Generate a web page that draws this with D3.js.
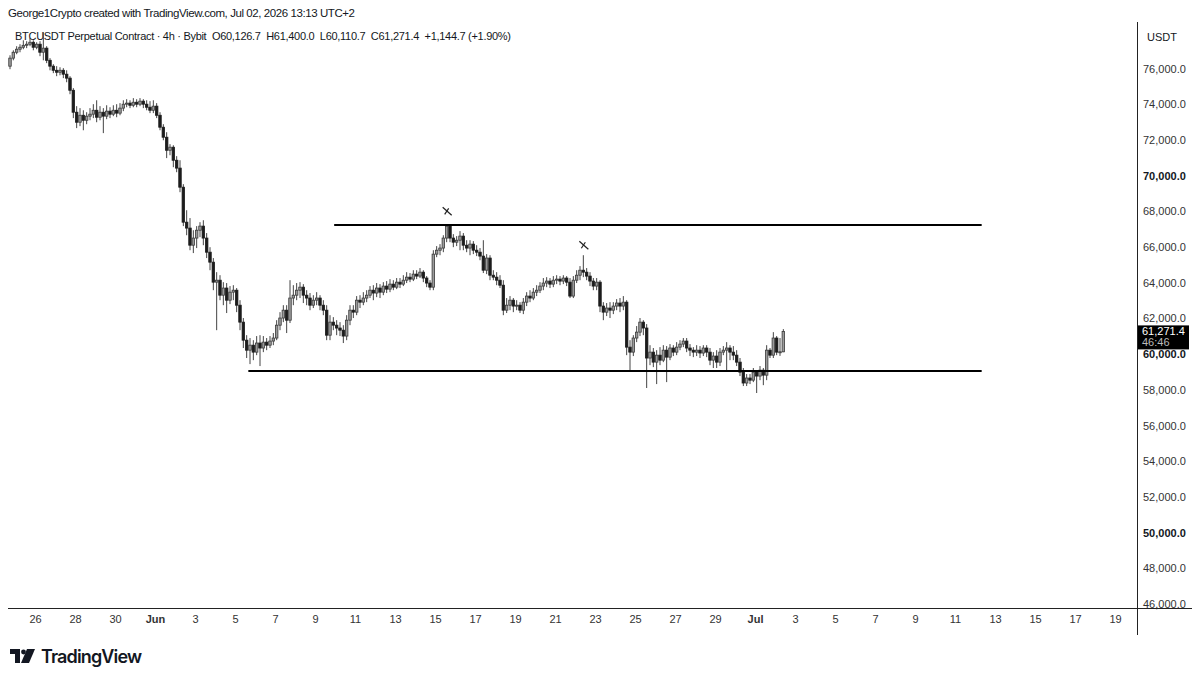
<!DOCTYPE html>
<html>
<head>
<meta charset="utf-8">
<script src="https://cdn.jsdelivr.net/npm/d3@7"></script>
<style>
  html, body { margin: 0; padding: 0; background: #fff; }
  svg { display: block; font-family: "Liberation Sans", Arial, sans-serif; }
</style>
</head>
<body>
<div id="chart"></div>
<script>
// BTCUSDT 4h candles, first bar opens May 24 2026 18:00
const startTime = new Date(2026, 4, 24, 18);

const opens = [76130, 76580, 76910, 77080, 77190, 77300, 77360, 77470, 77190, 77360, 76910, 77140, 76460, 76130, 75900, 75790, 75900, 75680, 75460, 74780,
  73550, 72990, 73380, 73100, 73330, 73440, 73660, 73270, 73550, 73330, 73610, 73440, 73660, 73500, 73780, 74000, 74060, 73940, 74110, 74000,
  74170, 74000, 73830, 73660, 73890, 73380, 72710, 72150, 71420, 71590, 70860, 70420, 69350, 67390, 67060, 66100, 66500, 66940, 67170, 66500,
  65710, 65150, 64030, 64140, 63300, 63700, 63020, 63470, 63580, 62740, 61790, 60780, 60220, 60500, 60110, 60620, 60340, 60670, 60500, 60730,
  60900, 61620, 62020, 62460, 61900, 63140, 63300, 63580, 63750, 63300, 63140, 62740, 63020, 63140, 62740, 62460, 61060, 61790, 61620, 61460,
  61340, 61010, 61900, 62460, 62350, 63020, 62910, 63140, 63300, 63580, 63420, 63700, 63470, 63810, 63640, 63920, 63750, 64030, 63920, 64140,
  64310, 64200, 64480, 64370, 64590, 64260, 63980, 63750, 65600, 65820, 65940, 66500, 67170, 66500, 66270, 66380, 66610, 66100, 65940, 66160,
  65820, 65710, 65490, 64700, 65380, 64420, 64310, 64140, 63860, 62460, 62740, 63020, 62690, 62740, 62460, 62910, 63250, 63140, 63470, 63580,
  63810, 63980, 64090, 63920, 64140, 64200, 64090, 64260, 64030, 63250, 64140, 64420, 64700, 64590, 64370, 64090, 63810, 64030, 62690, 62350,
  62580, 62460, 62690, 62860, 62690, 62910, 60390, 60110, 60900, 61230, 61790, 61460, 59780, 60110, 59550, 59940, 59660, 60220, 59830, 60340,
  60110, 60390, 60560, 60730, 60340, 60220, 60110, 60220, 60060, 60340, 60110, 59660, 59890, 59550, 60110, 60220, 60340, 60110, 59940, 59550,
  58990, 58380, 58660, 58540, 58990, 58770, 59100, 58820, 60220, 59940, 60900, 60110, 60126.7];

const highs = [76740, 77020, 77250, 77360, 77580, 77530, 77700, 77580, 77470, 77530, 78030, 77250, 76580, 76240, 76130, 76070, 76020, 75900, 75570, 74900,
  73890, 73780, 73660, 73550, 73780, 74000, 74220, 73890, 73780, 73940, 73830, 73940, 74000, 74060, 74220, 74280, 74220, 74340, 74280, 74340,
  74280, 74220, 74170, 74220, 74060, 73550, 72880, 72430, 71760, 71700, 71090, 70860, 69520, 68060, 67620, 66940, 67170, 67390, 67500, 66780,
  65990, 65380, 64590, 64420, 64030, 63980, 63810, 63860, 63700, 63020, 62020, 61060, 60900, 60780, 61010, 61060, 61010, 60900, 61010, 61180,
  61900, 62350, 62740, 62740, 64140, 63860, 63980, 64030, 63920, 63580, 63420, 63300, 63470, 63300, 63020, 62740, 62180, 62070, 61900, 61790,
  61620, 62180, 62740, 62740, 63250, 63300, 63470, 63580, 63810, 63860, 63980, 63920, 64030, 64090, 64200, 64140, 64260, 64260, 64420, 64590,
  64540, 64700, 64700, 64820, 64700, 64370, 64140, 65820, 66050, 66160, 66660, 67280, 67220, 66720, 66610, 66890, 66780, 66380, 66380, 66330,
  66100, 65940, 66380, 65600, 65540, 64700, 64590, 64420, 64140, 63140, 63250, 63140, 63020, 62910, 63140, 63470, 63580, 63700, 63860, 64030,
  64260, 64310, 64260, 64370, 64420, 64370, 64420, 64370, 64260, 64370, 64700, 64930, 65540, 64820, 64590, 64260, 64260, 64140, 62910, 62860,
  62910, 62910, 63080, 63140, 63250, 63020, 60780, 61060, 61570, 62020, 61900, 61680, 60500, 60340, 60220, 60390, 60500, 60450, 60560, 60500,
  60670, 60780, 60900, 60900, 60560, 60390, 60500, 60450, 60500, 60500, 60340, 60110, 60220, 60340, 60450, 60670, 60500, 60450, 60220, 59780,
  59220, 58880, 58880, 59220, 59100, 59330, 59220, 60500, 60340, 61230, 61010, 60900, 61400];

const lows = [75960, 76460, 76800, 76910, 77080, 77140, 77250, 77020, 77080, 76690, 76460, 76300, 75900, 75740, 75570, 75620, 75460, 75230, 74560, 73220,
  72660, 72770, 72540, 72880, 73100, 73220, 72990, 73100, 72380, 73160, 73220, 73330, 73270, 73380, 73610, 73830, 73780, 73830, 73830, 73890,
  73780, 73660, 73500, 73500, 73220, 72540, 71980, 70980, 71140, 70470, 70190, 69070, 67170, 66660, 65820, 65660, 65940, 66550, 66100, 65380,
  64700, 63580, 61340, 63020, 62740, 62300, 62800, 63020, 62350, 61340, 60340, 59780, 59440, 59660, 59940, 59330, 60110, 60220, 60340, 60500,
  60780, 61340, 61790, 61180, 61740, 62740, 63020, 63140, 62860, 62740, 62460, 62580, 62740, 62460, 62180, 60780, 60780, 61340, 61060, 61010,
  60620, 60780, 61620, 62020, 62180, 62580, 62740, 62910, 63140, 63020, 63190, 63140, 63300, 63420, 63470, 63580, 63640, 63700, 63810, 63980,
  64030, 64090, 64200, 64260, 64030, 63750, 63580, 63580, 65430, 65540, 65710, 66270, 66270, 65990, 66050, 65820, 65820, 65710, 65540, 65600,
  65490, 65260, 64540, 64480, 64140, 64140, 63860, 63700, 62180, 62300, 62460, 62350, 62460, 62300, 62240, 62690, 62910, 63020, 63250, 63420,
  63580, 63750, 63700, 63750, 63920, 63860, 63920, 63810, 63140, 63140, 63980, 64140, 64310, 64140, 63810, 63580, 63580, 62350, 61900, 62130,
  62020, 62240, 62460, 62350, 62460, 59940, 59100, 59890, 60670, 61010, 61060, 58100, 59380, 59270, 58320, 59380, 59550, 58430, 59660, 59890,
  59940, 60220, 60390, 60110, 59890, 59830, 59890, 59780, 59890, 59830, 59380, 59220, 59220, 59330, 59940, 59100, 59660, 59660, 59330, 58770,
  58210, 58210, 58320, 58430, 57820, 58540, 58260, 58540, 59780, 59780, 59940, 59900, 60110.7];

const closes = [76580, 76910, 77080, 77190, 77300, 77360, 77470, 77190, 77360, 76910, 77140, 76460, 76130, 75900, 75790, 75900, 75680, 75460, 74780, 73550,
  72990, 73380, 73100, 73330, 73440, 73660, 73270, 73550, 73330, 73610, 73440, 73660, 73500, 73780, 74000, 74060, 73940, 74110, 74000, 74170,
  74000, 73830, 73660, 73890, 73380, 72710, 72150, 71420, 71590, 70860, 70420, 69350, 67390, 67060, 66100, 66500, 66940, 67170, 66500, 65710,
  65150, 64030, 64140, 63300, 63700, 63020, 63470, 63580, 62740, 61790, 60780, 60220, 60500, 60110, 60620, 60340, 60670, 60500, 60730, 60900,
  61620, 62020, 62460, 61900, 63140, 63300, 63580, 63750, 63300, 63140, 62740, 63020, 63140, 62740, 62460, 61060, 61790, 61620, 61460, 61340,
  61010, 61900, 62460, 62350, 63020, 62910, 63140, 63300, 63580, 63420, 63700, 63470, 63810, 63640, 63920, 63750, 64030, 63920, 64140, 64310,
  64200, 64480, 64370, 64590, 64260, 63980, 63750, 65600, 65820, 65940, 66500, 67170, 66500, 66270, 66380, 66610, 66100, 65940, 66160, 65820,
  65710, 65490, 64700, 65380, 64420, 64310, 64140, 63860, 62460, 62740, 63020, 62690, 62740, 62460, 62910, 63250, 63140, 63470, 63580, 63810,
  63980, 64090, 63920, 64140, 64200, 64090, 64260, 64030, 63250, 64140, 64420, 64700, 64590, 64370, 64090, 63810, 64030, 62690, 62350, 62580,
  62460, 62690, 62860, 62690, 62910, 60390, 60110, 60900, 61230, 61790, 61460, 59780, 60110, 59550, 59940, 59660, 60220, 59830, 60340, 60110,
  60390, 60560, 60730, 60340, 60220, 60110, 60220, 60060, 60340, 60110, 59660, 59890, 59550, 60110, 60220, 60340, 60110, 59940, 59550, 58990,
  58380, 58660, 58540, 58990, 58770, 59100, 58820, 60220, 59940, 60900, 60110, 60130, 61271.4];

// axis ticks
const yTicks = [46000, 48000, 50000, 52000, 54000, 56000, 58000, 60000, 62000, 64000, 66000, 68000, 70000, 72000, 74000, 76000];
const yBold = [50000, 60000, 70000];
const xTicks = ["2026-05-26", "2026-05-28", "2026-05-30", "2026-06-01", "2026-06-03", "2026-06-05", "2026-06-07", "2026-06-09",
  "2026-06-11", "2026-06-13", "2026-06-15", "2026-06-17", "2026-06-19", "2026-06-21", "2026-06-23", "2026-06-25", "2026-06-27",
  "2026-06-29", "2026-07-01", "2026-07-03", "2026-07-05", "2026-07-07", "2026-07-09", "2026-07-11", "2026-07-13", "2026-07-15",
  "2026-07-17", "2026-07-19"];

// drawings: range lines and the two x marks
const levels = [
  { from: "2026-06-09T23:00", to: "2026-07-12T08:00", price: 67230 },
  { from: "2026-06-05T16:00", to: "2026-07-12T08:00", price: 59050 }
];
const crosses = [
  { time: "2026-06-15T14:00", price: 68000 },
  { time: "2026-06-22T10:00", price: 66100 }
];

const header = "George1Crypto created with TradingView.com, Jul 02, 2026 13:13 UTC+2";
const legend = "BTCUSDT Perpetual Contract · 4h · Bybit  O60,126.7  H61,400.0  L60,110.7  C61,271.4  +1,144.7 (+1.90%)";
const lastPrice = "61,271.4";
const countdown = "46:46";

const W = 1200, H = 681;
const pane = { left: 8, right: 1137, top: 22, bottom: 608 };

const parse = d3.timeParse("%Y-%m-%dT%H:%M");
const parseDay = d3.timeParse("%Y-%m-%d");

const candles = closes.map((c, i) => ({
  t: d3.timeHour.offset(startTime, 4 * i),
  o: opens[i], h: highs[i], l: lows[i], c: c
}));

const svg = d3.select("#chart").append("svg")
  .attr("width", W)
  .attr("height", H);

const x = d3.scaleTime()
  .domain([new Date(2026, 4, 25), new Date(2026, 6, 20)])
  .range([15, 1135]);

const y = d3.scaleLinear()
  .domain([46000, 76000])
  .range([604, 68.5]);

// header texts
svg.append("text")
  .attr("x", 8).attr("y", 17)
  .attr("fill", "#131722")
  .attr("textLength", 347)
  .style("font-size", "11.5px")
  .text(header);

svg.append("text")
  .attr("x", 15).attr("y", 40)
  .attr("fill", "#131722")
  .attr("textLength", 496)
  .style("font-size", "11px")
  .attr("xml:space", "preserve")
  .text(legend);

// candles, clipped to the pane
svg.append("clipPath").attr("id", "pane")
  .append("rect")
  .attr("x", pane.left).attr("y", pane.top)
  .attr("width", pane.right - pane.left).attr("height", pane.bottom - pane.top);

const plot = svg.append("g").attr("clip-path", "url(#pane)");

const bw = 2.5;

plot.selectAll(".wick")
  .data(candles)
  .enter()
  .append("line")
  .attr("class", "wick")
  .attr("x1", d => x(d.t)).attr("x2", d => x(d.t))
  .attr("y1", d => y(d.h)).attr("y2", d => y(d.l))
  .attr("stroke", "#444")
  .attr("stroke-width", 1);

plot.selectAll(".body")
  .data(candles)
  .enter()
  .append("rect")
  .attr("class", "body")
  .attr("x", d => x(d.t) - bw / 2)
  .attr("y", d => y(Math.max(d.o, d.c)))
  .attr("width", bw)
  .attr("height", d => Math.max(1, Math.abs(y(d.o) - y(d.c))))
  .attr("fill", d => d.c >= d.o ? "#9a9a9a" : "#1c1c1c")
  .attr("stroke", d => d.c >= d.o ? "#3a3a3a" : "#1c1c1c")
  .attr("stroke-width", 0.8);

// horizontal range lines
plot.selectAll(".level")
  .data(levels)
  .enter()
  .append("line")
  .attr("x1", d => x(parse(d.from)))
  .attr("x2", d => x(parse(d.to)))
  .attr("y1", d => y(d.price))
  .attr("y2", d => y(d.price))
  .attr("stroke", "#000")
  .attr("stroke-width", 2);

// x marks above the highs
const cross = plot.selectAll(".cross")
  .data(crosses)
  .enter()
  .append("g")
  .attr("transform", d => `translate(${x(parse(d.time))},${y(d.price)})`);
cross.append("line")
  .attr("x1", -4).attr("y1", -4).attr("x2", 5).attr("y2", 4)
  .attr("stroke", "#222").attr("stroke-width", 1.2);
cross.append("line")
  .attr("x1", -2).attr("y1", 3).attr("x2", 2).attr("y2", -3)
  .attr("stroke", "#222").attr("stroke-width", 1.2);

// time axis
const xAxis = svg.append("g")
  .attr("transform", `translate(0,${pane.bottom})`)
  .call(d3.axisBottom(x)
    .tickValues(xTicks.map(parseDay))
    .tickSize(0)
    .tickPadding(7)
    .tickFormat(d => d.getDate() === 1 ? d3.timeFormat("%b")(d) : d.getDate()));
xAxis.select(".domain").remove();
xAxis.selectAll("text")
  .attr("fill", "#333")
  .style("font-size", "11px")
  .style("font-weight", d => d.getDate() === 1 ? "bold" : "normal");

svg.append("line")
  .attr("x1", pane.left).attr("x2", 1192)
  .attr("y1", pane.bottom + 0.5).attr("y2", pane.bottom + 0.5)
  .attr("stroke", "#222").attr("stroke-width", 1);

// price axis
const yAxis = svg.append("g")
  .attr("transform", `translate(${pane.right},0)`)
  .call(d3.axisRight(y)
    .tickValues(yTicks)
    .tickSize(0)
    .tickPadding(6)
    .tickFormat(d3.format(",.1f")));
yAxis.select(".domain").remove();
yAxis.selectAll("text")
  .attr("fill", d => yBold.includes(d) ? "#131722" : "#333")
  .style("font-size", "11px")
  .style("font-weight", d => yBold.includes(d) ? "bold" : "normal");

svg.append("line")
  .attr("x1", pane.right + 0.5).attr("x2", pane.right + 0.5)
  .attr("y1", pane.top).attr("y2", 635)
  .attr("stroke", "#222").attr("stroke-width", 1);

svg.append("text")
  .attr("x", 1147).attr("y", 41)
  .attr("fill", "#131722")
  .style("font-size", "11px")
  .text("USDT");

// last price label
const lastY = y(closes[closes.length - 1]);
svg.append("rect")
  .attr("x", pane.right + 1).attr("y", lastY - 6)
  .attr("width", 51).attr("height", 24)
  .attr("fill", "#000");
svg.append("text")
  .attr("x", 1142).attr("y", lastY + 4)
  .attr("fill", "#fff")
  .style("font-size", "11px")
  .text(lastPrice);
svg.append("text")
  .attr("x", 1142).attr("y", lastY + 15)
  .attr("fill", "#bbb")
  .style("font-size", "11px")
  .text(countdown);

// TradingView logo
const logo = svg.append("g").attr("fill", "#131722");
logo.append("path").attr("d", "M10,649 H20 V663 H15 V654 H10 Z");
logo.append("circle").attr("cx", 23.5).attr("cy", 652).attr("r", 2.4);
logo.append("path").attr("d", "M27,649 H35 L29,663 H21 Z");
logo.append("text")
  .attr("x", 41).attr("y", 663)
  .attr("textLength", 101)
  .style("font-family", "Inter, 'Noto Sans', sans-serif")
  .style("font-size", "18px")
  .style("font-weight", "600")
  .text("TradingView");
</script>
</body>
</html>
